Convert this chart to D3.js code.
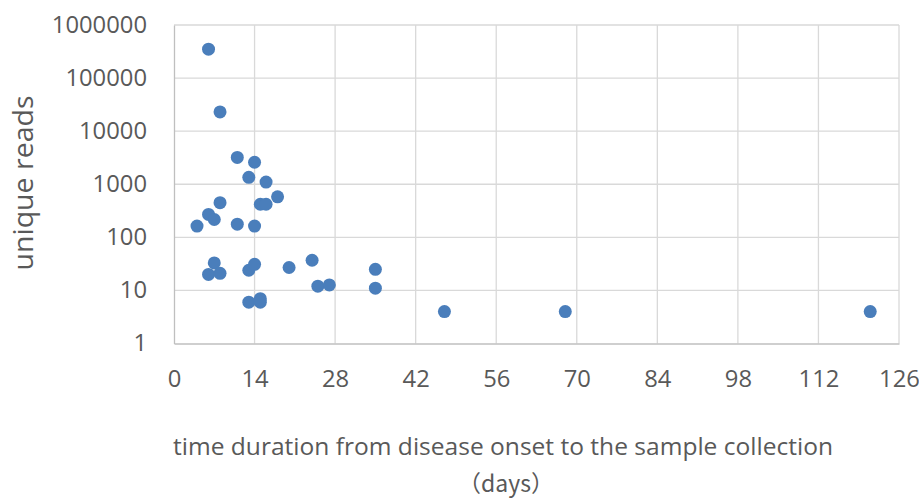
<!DOCTYPE html>
<html>
<head>
<meta charset="utf-8">
<script src="https://cdn.jsdelivr.net/npm/d3@7"></script>
<style>
  html, body { margin: 0; padding: 0; background: #fff; }
  svg { display: block; }
  text { font-family: "Open Sans", "Noto Sans", sans-serif; fill: #595959; }
</style>
</head>
<body>
<svg id="chart" width="919" height="498"></svg>
<script>
// days from disease onset to sample collection
const days = [6, 8, 11, 14, 13, 16, 8, 18, 15, 16, 6, 7, 4, 11, 14,
              7, 6, 8, 13, 14, 20, 24, 25, 27, 35, 35, 13, 15, 15, 47, 68, 121];
// unique reads
const reads = [350000, 23000, 3200, 2600, 1350, 1100, 450, 580, 420, 420, 270, 217, 163, 177, 163,
               33, 20, 21, 24, 31, 27, 37, 12, 12.7, 25, 11, 6, 7, 6, 4, 4, 4];
const xTicks = [0, 14, 28, 42, 56, 70, 84, 98, 112, 126];
const yTicks = [1, 10, 100, 1000, 10000, 100000, 1000000];
const xTitle = "time duration from disease onset to the sample collection";
const xTitle2 = "\uFF08days\uFF09";
const yTitle = "unique reads";

const svg = d3.select("#chart");
const mLeft = 174, mRight = 899, mTop = 25, mBottom = 343.5;

const x = d3.scaleLinear().domain([0, 126]).range([mLeft, mRight]);
const y = d3.scaleLog().domain([1, 1000000]).range([mBottom, mTop]);

// grid
const grid = svg.append("g");
grid.selectAll("line.v").data(xTicks.slice(1)).join("line")
  .attr("x1", d => x(d)).attr("x2", d => x(d))
  .attr("y1", mTop).attr("y2", mBottom)
  .attr("stroke", "#d9d9d9").attr("stroke-width", 1.3);
grid.selectAll("line.h").data(yTicks.slice(1)).join("line")
  .attr("x1", mLeft).attr("x2", mRight)
  .attr("y1", d => y(d)).attr("y2", d => y(d))
  .attr("stroke", "#d9d9d9").attr("stroke-width", 1.3);

// axes
const xAxis = svg.append("g").attr("transform", `translate(0,${mBottom})`)
  .call(d3.axisBottom(x).tickValues(xTicks).tickSize(0).tickPadding(27).tickFormat(d3.format("d")));
const yAxis = svg.append("g").attr("transform", `translate(${mLeft},0)`)
  .call(d3.axisLeft(y).tickValues(yTicks).tickSize(0).tickPadding(27).tickFormat(d3.format("d")));
[xAxis, yAxis].forEach(g => {
  g.select(".domain").attr("stroke", "#bfbfbf").attr("stroke-width", 1.3);
  g.selectAll("text").style("font-family", '"Open Sans", sans-serif')
    .style("font-size", "23px").attr("fill", "#595959")
    .attr("textLength", function() { return this.textContent.length * 13.6; })
    .attr("lengthAdjust", "spacingAndGlyphs");
});

// points
svg.append("g").selectAll("circle").data(days.map((d, i) => [d, reads[i]])).join("circle")
  .attr("cx", d => x(d[0])).attr("cy", d => y(d[1]))
  .attr("r", 6.5).attr("fill", "#4a7ebb");

// titles
svg.append("text").attr("x", 503).attr("y", 455).attr("text-anchor", "middle")
  .style("font-size", "23px").attr("textLength", 660).attr("lengthAdjust", "spacingAndGlyphs")
  .text(xTitle);
svg.append("text").attr("x", 506).attr("y", 492).attr("text-anchor", "middle")
  .style("font-size", "23px").style("font-family", '"Noto Sans CJK SC", "Open Sans", sans-serif').text(xTitle2);
svg.append("text").attr("transform", "translate(33,183) rotate(-90)").attr("text-anchor", "middle")
  .style("font-size", "27px").attr("textLength", 175).attr("lengthAdjust", "spacingAndGlyphs")
  .text(yTitle);
</script>
</body>
</html>
